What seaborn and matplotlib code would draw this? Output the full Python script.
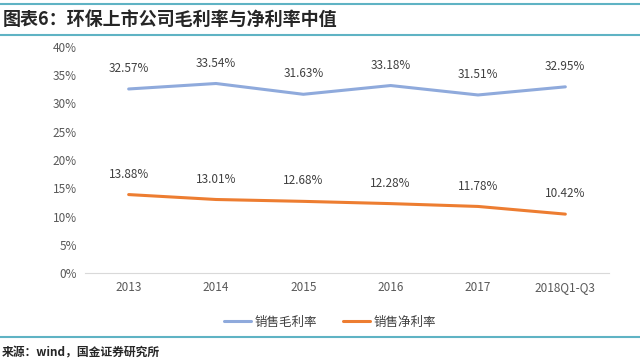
import matplotlib
matplotlib.use('Agg')
import matplotlib.pyplot as plt
import pandas as pd
import seaborn as sns
from matplotlib.lines import Line2D

years = ['2013', '2014', '2015', '2016', '2017', '2018Q1-Q3']
gross_margin = [32.57, 33.54, 31.63, 33.18, 31.51, 32.95]
net_margin = [13.88, 13.01, 12.68, 12.28, 11.78, 10.42]
series_names = ['销售毛利率', '销售净利率']
colors = ['#8FAADC', '#ED7D31']

sns.set_style('white')
plt.rcParams['font.family'] = ['Noto Sans CJK SC', 'DejaVu Sans']

df = pd.DataFrame({'year': years * 2,
                   'value': gross_margin + net_margin,
                   'series': [series_names[0]] * 6 + [series_names[1]] * 6})

fig = plt.figure(figsize=(6.4, 3.64), dpi=100)
ax = fig.add_axes([85 / 640, 1 - 273 / 364, 524 / 640, 226 / 364])
sns.lineplot(data=df, x='year', y='value', hue='series', palette=colors,
             sort=False, linewidth=2.2, ax=ax, legend=False)

for vals in [gross_margin, net_margin]:
    for i, v in enumerate(vals):
        ax.annotate(f'{v:.2f}%', (i, v), xytext=(0, 10), textcoords='offset points',
                    ha='center', va='bottom', fontsize=8.5, color='#404040')

ax.set_xlim(-0.5, 5.5)
ax.set_ylim(0, 40)
ax.set_yticks(range(0, 41, 5))
ax.set_yticklabels([f'{t}%' for t in range(0, 41, 5)])
ax.tick_params(axis='both', labelsize=8.5, colors='#595959', length=0, pad=6)
ax.set_xlabel('')
ax.set_ylabel('')
for s in ['top', 'right', 'left']:
    ax.spines[s].set_visible(False)
ax.spines['bottom'].set_color('#D9D9D9')

handles = [Line2D([], [], color=c, linewidth=2.2) for c in colors]
fig.legend(handles, series_names, loc='center', bbox_to_anchor=(330 / 640, 1 - 322 / 364),
           ncol=2, frameon=False, fontsize=9, handlelength=2.2, handletextpad=0.3,
           columnspacing=2.0, labelcolor='#404040')

# title and rules
fig.add_artist(Line2D([0, 1], [1 - 4 / 364] * 2, color='#5FB3C4', linewidth=1.5))
fig.add_artist(Line2D([0, 1], [1 - 35 / 364] * 2, color='#5FB3C4', linewidth=1.5))
fig.text(0.005, 1 - 19 / 364, '图表6：环保上市公司毛利率与净利率中值', fontsize=13,
         fontweight='bold', style='italic', va='center', ha='left')
fig.add_artist(Line2D([0, 1], [1 - 337 / 364] * 2, color='#5FB3C4', linewidth=1.5))
fig.text(0.003, 1 - 353 / 364, '来源：wind，国金证券研究所', fontsize=8.5,
         fontweight='bold', va='center', ha='left')

fig.savefig('out.png', dpi=100)
